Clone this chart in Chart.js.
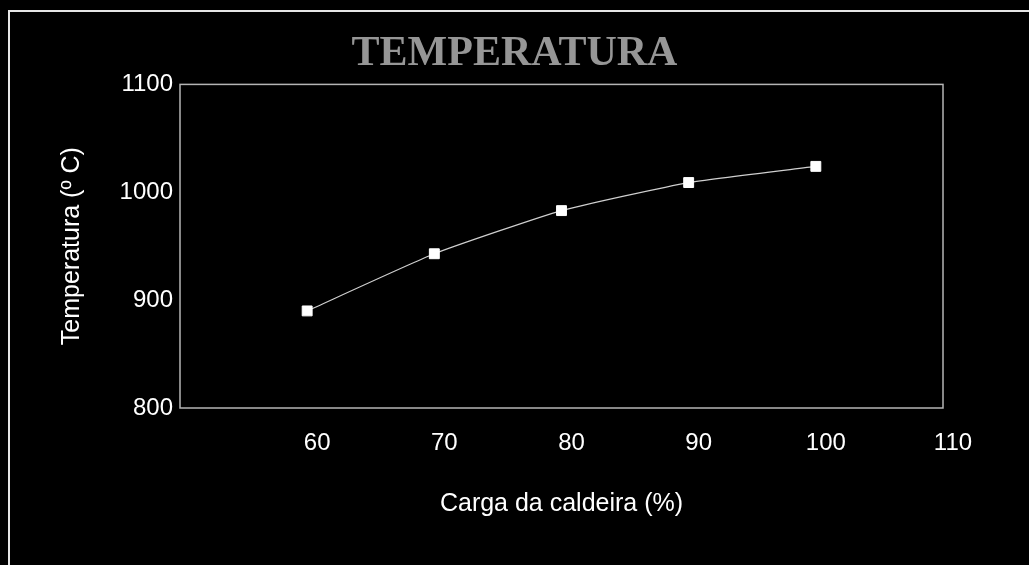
<!DOCTYPE html>
<html>
<head>
<meta charset="utf-8">
<title>Temperatura</title>
<script src="https://cdn.jsdelivr.net/npm/chart.js@4/dist/chart.umd.min.js"></script>
<style>
    html, body { margin: 0; padding: 0; background: #000; }
    canvas { display: block; }
</style>
</head>
<body>
<canvas id="grafico" width="1029" height="565"></canvas>
<script>
// carga da caldeira (%) e temperatura medida (ºC)
const carga = [60, 70, 80, 90, 100];
const temperatura = [890, 943, 983, 1009, 1024];
const ticksCarga = [60, 70, 80, 90, 100, 110];
const ticksTemp = [800, 900, 1000, 1100];

document.addEventListener('DOMContentLoaded', () => {
    const ctx = document.getElementById('grafico');

    // moldura externa e caixa da área do gráfico
    const molduras = {
        id: 'molduras',
        beforeDraw(chart) {
            const c = chart.ctx;
            c.save();
            c.strokeStyle = '#e6e6e6';
            c.lineWidth = 2;
            c.beginPath();
            c.moveTo(9, chart.height);
            c.lineTo(9, 11);
            c.lineTo(chart.width, 11);
            c.stroke();
            const a = chart.chartArea;
            c.strokeStyle = '#b5b5b5';
            c.lineWidth = 1.5;
            c.strokeRect(a.left, a.top, a.right - a.left, a.bottom - a.top);
            c.restore();
        }
    };

    const fonte = (size) => ({ family: 'Liberation Sans', size: size });

    new Chart(ctx, {
        type: 'scatter',
        data: {
            datasets: [{
                label: 'Temperatura',
                data: carga.map((x, i) => ({ x: x, y: temperatura[i] })),
                showLine: true,
                borderColor: '#cfcfcf',
                borderWidth: 1.2,
                tension: 0.15,
                pointStyle: 'rect',
                pointRadius: 7,
                pointBackgroundColor: '#ffffff',
                pointBorderColor: '#ffffff',
                pointBorderWidth: 1
            }]
        },
        options: {
            responsive: false,
            animation: false,
            layout: { padding: 0 },
            plugins: {
                legend: { display: false },
                tooltip: { enabled: false },
                title: {
                    display: true,
                    text: 'TEMPERATURA',
                    color: '#969696',
                    font: { family: 'Liberation Serif', size: 42, weight: 'bold' },
                    padding: { top: 29, bottom: 5 }
                }
            },
            scales: {
                x: {
                    type: 'linear',
                    min: 50,
                    max: 110,
                    afterBuildTicks: (scale) => {
                        scale.ticks = [50].concat(ticksCarga).map(v => ({ value: v }));
                    },
                    afterFit: (scale) => { scale.height = 157; },
                    grid: { display: false, drawTicks: false },
                    border: { display: false },
                    ticks: {
                        color: '#ffffff',
                        font: fonte(24),
                        padding: 21,
                        labelOffset: 10,
                        maxRotation: 0,
                        callback: (v) => v === 50 ? '' : String(v)
                    },
                    title: {
                        display: true,
                        text: 'Carga da caldeira (%)',
                        color: '#ffffff',
                        font: fonte(25),
                        padding: { top: 30, bottom: 46 }
                    }
                },
                y: {
                    min: 800,
                    max: 1100,
                    afterBuildTicks: (scale) => {
                        scale.ticks = ticksTemp.map(v => ({ value: v }));
                    },
                    afterFit: (scale) => { scale.width = 180; },
                    grid: { display: false, drawTicks: false },
                    border: { display: false },
                    ticks: {
                        color: '#ffffff',
                        font: fonte(24),
                        padding: 7,
                        callback: (v) => String(v)
                    },
                    title: {
                        display: true,
                        text: 'Temperatura (º C)',
                        color: '#ffffff',
                        font: fonte(25),
                        padding: { top: 57, bottom: 0 }
                    }
                },
                // eixo vazio à direita, só reserva a margem
                margem: {
                    type: 'linear',
                    position: 'right',
                    afterFit: (scale) => { scale.width = 86; },
                    grid: { display: false, drawTicks: false },
                    border: { display: false },
                    ticks: { display: false }
                }
            }
        },
        plugins: [molduras]
    });
});
</script>
</body>
</html>
